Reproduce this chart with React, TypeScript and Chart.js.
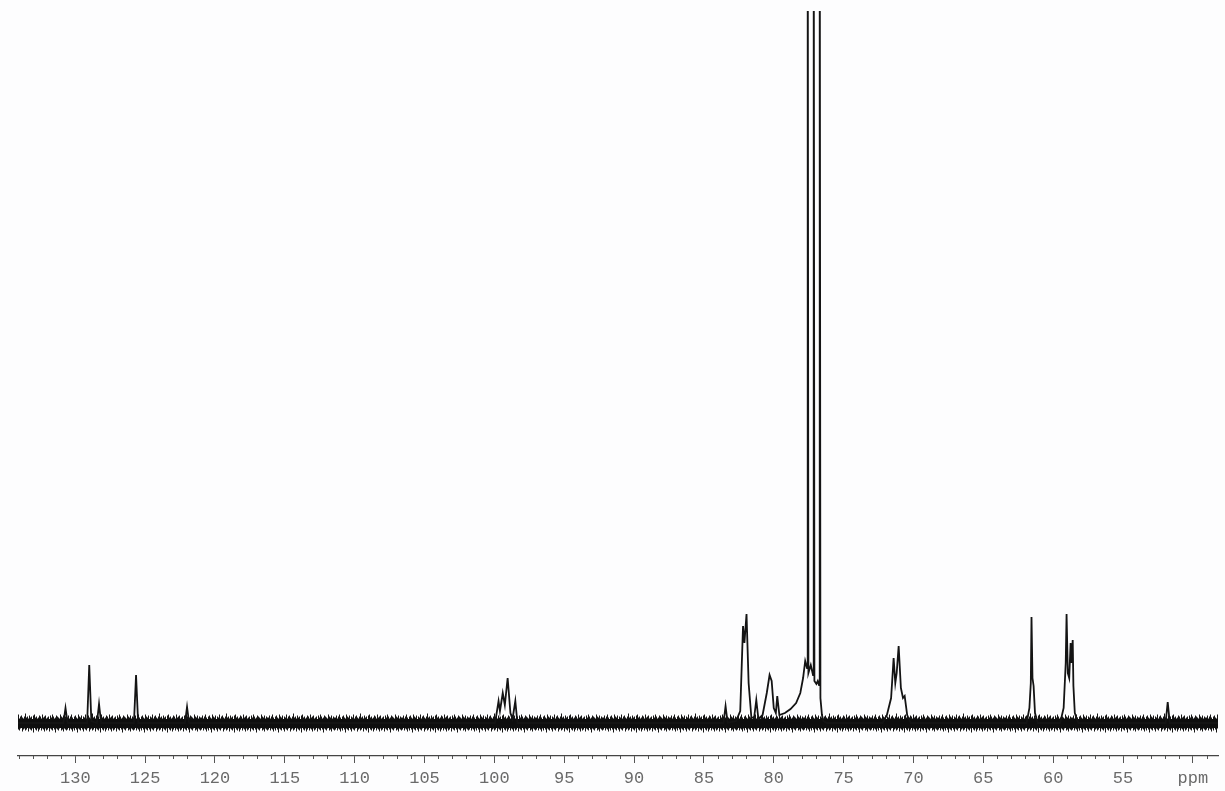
import React, { useEffect, useRef } from "react";
import { Chart, registerables } from "chart.js";

Chart.register(...registerables);

// Spectrum trace: chemical shift (ppm) and height above baseline (px units)
const TRACE_PPM = [
  134.1, 130.85, 130.7, 130.55, 129.15, 129.0, 128.85, 128.45, 128.3, 128.15,
  125.8, 125.65, 125.5, 122.15, 122.0, 121.85,
  99.95, 99.7, 99.6, 99.4, 99.25, 99.05, 98.85, 98.7, 98.5, 98.35,
  83.6, 83.45, 83.3, 82.7, 82.4, 82.2, 82.1, 81.95, 81.8, 81.6, 81.4, 81.25, 81.1,
  80.8, 80.5, 80.3, 80.15, 80.0, 79.85, 79.75, 79.6, 79.2, 78.8, 78.4, 78.1, 77.9,
  77.75, 77.62, 77.57, 77.52, 77.35, 77.19, 77.14, 77.09, 76.95, 76.85, 76.76, 76.71, 76.66,
  76.55, 76.45, 76.2,
  72.2, 71.9, 71.6, 71.42, 71.3, 71.2, 71.06, 70.9, 70.75, 70.63, 70.45, 70.2,
  61.9, 61.7, 61.6, 61.55, 61.48, 61.4, 61.3, 61.1,
  59.5, 59.25, 59.1, 59.04, 58.95, 58.85, 58.75, 58.7, 58.6, 58.55, 58.45, 58.2,
  51.95, 51.8, 51.65, 48.2,
];
const TRACE_HEIGHT = [
  0, 0, 15, 0, 0, 58, 2, 0, 19, 0,
  0, 48, 0, 0, 16, 0,
  0, 22, 12, 30, 18, 45, 10, 4, 22, 0,
  0, 17, 0, 2, 12, 97, 80, 109, 40, 5, 6, 23, 4,
  8, 30, 48, 42, 15, 10, 27, 8, 10, 14, 20, 30, 45,
  62, 55, 900, 50, 58, 48, 900, 42, 39, 42, 38, 900, 25,
  8, 2, 0,
  0, 8, 25, 65, 40, 50, 77, 35, 25, 27, 8, 0,
  0, 15, 40, 106, 45, 37, 10, 0,
  0, 15, 60, 109, 50, 45, 80, 60, 83, 37, 10, 0,
  0, 21, 0, 0,
];

// Baseline (centre of the noise band)
const BASE_PPM = [134.1, 48.2];
const BASE_LEVEL = [0, 0];

// Axis
const AXIS_MIN = 48.2;
const AXIS_MAX = 134.1;
const TICK_VALUES = [130, 125, 120, 115, 110, 105, 100, 95, 90, 85, 80, 75, 70, 65, 60, 55, 50];
const TICK_LABELS = ["130", "125", "120", "115", "110", "105", "100", "95", "90", "85", "80", "75", "70", "65", "60", "55", "ppm"];

// Texture of the baseline noise band (spike lengths above / below the centre, in px)
const NOISE_UP = [5, 7, 4, 6, 8, 5, 3, 6, 7, 5, 4, 8, 6, 5, 7, 3, 6, 5, 8, 4, 6, 7, 5, 4, 6, 9, 5, 6, 4, 7, 5, 6, 3, 7, 8, 5, 6, 4, 5, 7, 6, 4, 8, 5, 6, 7, 4, 5, 6, 3, 7, 5, 8, 6, 4, 5, 7, 6, 5, 4, 8, 6, 5, 7, 4, 6, 5];
const NOISE_DN = [6, 4, 7, 5, 6, 8, 5, 7, 4, 6, 9, 5, 6, 7, 4, 6, 8, 5, 6, 7, 5, 4, 8, 6, 5, 7, 6, 4, 8, 5, 6, 7, 5, 9, 4, 6, 7, 5, 8, 6, 4, 7, 5, 6, 8, 5, 7, 6, 4, 8, 5, 6, 7, 4, 6, 9, 5, 6, 7, 5, 4, 7, 6, 8, 5, 6, 7];

const minorTicks = {
  id: "minorTicks",
  afterDraw(chart: any) {
    const xs = chart.scales.x;
    const ctx = chart.ctx;
    const y0 = xs.top;
    ctx.save();
    ctx.strokeStyle = "#555";
    ctx.lineWidth = 1;
    for (let v = Math.ceil(AXIS_MIN); v <= Math.floor(AXIS_MAX); v++) {
      if (v % 5 === 0) continue;
      const x = Math.round(xs.getPixelForValue(v)) + 0.5;
      ctx.beginPath();
      ctx.moveTo(x, y0);
      ctx.lineTo(x, y0 + 3);
      ctx.stroke();
    }
    ctx.restore();
  },
};

function makeNoisePattern(ctx: CanvasRenderingContext2D, centre: number, h: number) {
  const c = document.createElement("canvas");
  c.width = NOISE_UP.length;
  c.height = h;
  const p = c.getContext("2d")!;
  for (let i = 0; i < NOISE_UP.length; i++) {
    p.fillStyle = "rgba(20,20,20,0.5)";
    p.fillRect(i, centre - NOISE_UP[i] - 1, 1, NOISE_UP[i] + NOISE_DN[i] + 2);
    p.fillStyle = "#151515";
    p.fillRect(i, centre - NOISE_UP[i], 1, NOISE_UP[i] + NOISE_DN[i]);
    p.fillStyle = "#0e0e0e";
    p.fillRect(i, centre - 4, 1, 9);
  }
  return ctx.createPattern(c, "repeat");
}

export default function App() {
  const ref = useRef<HTMLCanvasElement | null>(null);
  useEffect(() => {
    document.body.style.margin = "0";
    const canvas = ref.current!;
    const trace = TRACE_PPM.map((p, i) => ({ x: p, y: TRACE_HEIGHT[i] }));
    const base = BASE_PPM.map((p, i) => ({ x: p, y: BASE_LEVEL[i] }));
    const chart = new Chart(canvas, {
      type: "scatter",
      data: {
        datasets: [
          {
            data: trace,
            showLine: true,
            borderColor: "#141414",
            borderWidth: 1.8,
            pointRadius: 0,
            tension: 0,
          },
          {
            data: base,
            showLine: true,
            borderColor: "#1c1c1c",
            borderWidth: 22,
            borderCapStyle: "butt",
            pointRadius: 0,
            tension: 0,
          },
        ],
      },
      options: {
        animation: false,
        responsive: false,
        devicePixelRatio: 1,
        events: [],
        layout: { autoPadding: false, padding: { left: 18, right: 7, top: 11, bottom: 0 } },
        plugins: { legend: { display: false }, tooltip: { enabled: false } },
        scales: {
          x: {
            type: "linear",
            reverse: true,
            min: AXIS_MIN,
            max: AXIS_MAX,
            afterBuildTicks(scale: any) {
              scale.ticks = TICK_VALUES.map((v) => ({ value: v }));
            },
            afterFit(scale: any) {
              scale.height = 35;
              scale.paddingLeft = 0;
              scale.paddingRight = 0;
            },
            grid: {
              display: true,
              drawOnChartArea: false,
              drawTicks: true,
              tickLength: 7,
              tickColor: "#555",
              tickWidth: 1,
            },
            border: { display: true, color: "#444", width: 1.2 },
            ticks: {
              autoSkip: false,
              maxRotation: 0,
              padding: 5,
              color: "#6a6a6a",
              font: { family: "Liberation Mono", size: 17 },
              callback: (v: any) => {
                const i = TICK_VALUES.indexOf(Number(v));
                return i >= 0 ? TICK_LABELS[i] : "";
              },
            },
          },
          y: {
            type: "linear",
            display: false,
            min: -33,
            max: 712,
          },
        },
      },
      plugins: [minorTicks],
    });
    const centre = Math.round(chart.scales.y.getPixelForValue(0));
    const pat = makeNoisePattern(chart.ctx, centre, canvas.height);
    if (pat) {
      (chart.data.datasets[1] as any).borderColor = pat;
      chart.update();
    }
    return () => chart.destroy();
  }, []);
  return (
    <div style={{ width: 1225, height: 791, background: "#fdfdfe" }}>
      <canvas ref={ref} width={1225} height={791} style={{ display: "block" }} />
    </div>
  );
}
